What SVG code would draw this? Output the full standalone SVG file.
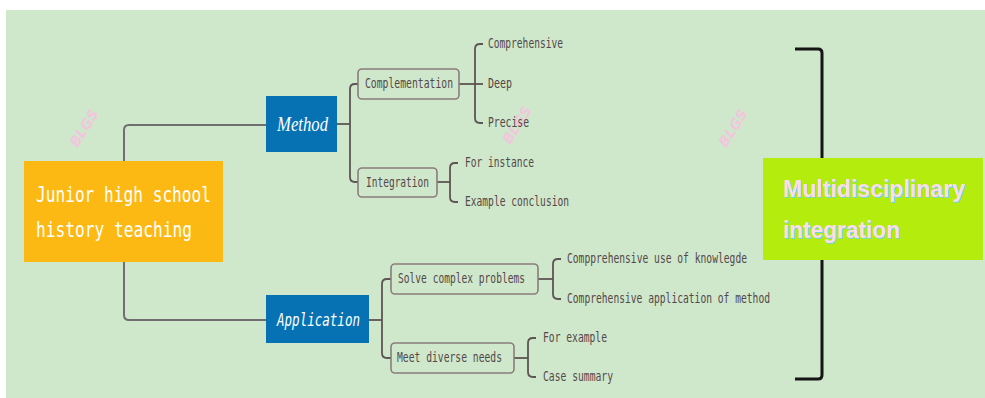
<svg xmlns="http://www.w3.org/2000/svg" width="985" height="398" viewBox="0 0 985 398">
<defs>
<style>
.lbl{font-family:"DejaVu Sans Mono","Liberation Mono",monospace;font-size:13.5px;fill:#54474a}
.box{fill:none;stroke:#8a7c7c;stroke-width:1.6}
.main{fill:none;stroke:#6f6f6f;stroke-width:2}
.sub{fill:none;stroke:#5e5454;stroke-width:1.8}
.wm{font-family:"DejaVu Sans","Liberation Sans",sans-serif;font-size:14px;font-style:italic;font-weight:bold;fill:#f3c5de}
.root{font-family:"DejaVu Sans Mono","Liberation Mono",monospace;font-size:21px;fill:#ffffff}
</style>
<filter id="sh" x="-10%" y="-30%" width="120%" height="160%">
<feDropShadow dx="1" dy="1" stdDeviation="0.5" flood-color="#6fd3e3" flood-opacity="1"/>
</filter>
</defs>
<rect x="0" y="0" width="985" height="398" fill="#ffffff"/>
<rect x="6" y="10" width="979" height="388" fill="#cfe7cb"/>

<g id="watermarks">
<text class="wm" transform="translate(84,128) rotate(-58)" text-anchor="middle" dy="5">BLGS</text>
<text class="wm" transform="translate(517,125) rotate(-58)" text-anchor="middle" dy="5">BLGS</text>
<text class="wm" transform="translate(733,128) rotate(-58)" text-anchor="middle" dy="5">BLGS</text>
</g>

<g id="connectors">
<path class="main" d="M124,161 V130 Q124,125 129,125 H266"/>
<path class="main" d="M124,262 V315 Q124,320 129,320 H266"/>
<path class="sub" d="M337,124 H350"/>
<path class="sub" d="M358,84 H355 Q350,84 350,89 V177 Q350,182 355,182 H358"/>
<path class="sub" d="M459,84 H483"/>
<path class="sub" d="M483,44 H480 Q475,44 475,49 V118 Q475,123 480,123 H483"/>
<path class="sub" d="M437,182 H450"/>
<path class="sub" d="M458,163 H455 Q450,163 450,168 V197 Q450,202 455,202 H458"/>
<path class="sub" d="M369,320 H382"/>
<path class="sub" d="M391,279 H387 Q382,279 382,284 V353 Q382,358 387,358 H391"/>
<path class="sub" d="M538,279 H553"/>
<path class="sub" d="M561,259 H558 Q553,259 553,264 V294 Q553,299 558,299 H561"/>
<path class="sub" d="M514,358 H528"/>
<path class="sub" d="M536,338 H533 Q528,338 528,343 V372 Q528,377 533,377 H536"/>
<path fill="none" stroke="#151515" stroke-width="3" d="M795,49 H818 Q822,49 822,53 V375 Q822,379 818,379 H795"/>
</g>

<g id="root">
<rect x="24" y="161" width="199" height="101" fill="#fdb913"/>
<text class="root" x="36" y="202" textLength="175" lengthAdjust="spacingAndGlyphs">Junior high school</text>
<text class="root" x="36" y="237" textLength="156" lengthAdjust="spacingAndGlyphs">history teaching</text>
</g>

<g id="method">
<rect x="266" y="96" width="71" height="56" fill="#0672b3"/>
<text x="277" y="131" font-family="'Liberation Serif','DejaVu Serif',serif" font-style="italic" font-size="21" fill="#ffffff" textLength="51" lengthAdjust="spacingAndGlyphs">Method</text>
</g>

<g id="application">
<rect x="266" y="295" width="103" height="48" fill="#0672b3"/>
<text x="277" y="326" font-family="'DejaVu Sans Mono','Liberation Mono',monospace" font-style="italic" font-size="18" fill="#ffffff" textLength="83" lengthAdjust="spacingAndGlyphs">Application</text>
</g>

<g id="complementation">
<rect class="box" x="358" y="69" width="101" height="30" rx="4"/>
<text class="lbl" x="365" y="88" textLength="88" lengthAdjust="spacingAndGlyphs">Complementation</text>
</g>
<g id="comprehensive"><text class="lbl" x="488" y="48" textLength="75" lengthAdjust="spacingAndGlyphs">Comprehensive</text></g>
<g id="deep"><text class="lbl" x="488" y="88" textLength="24" lengthAdjust="spacingAndGlyphs">Deep</text></g>
<g id="precise"><text class="lbl" x="488" y="127" textLength="41" lengthAdjust="spacingAndGlyphs">Precise</text></g>

<g id="integration">
<rect class="box" x="358" y="168" width="79" height="29" rx="4"/>
<text class="lbl" x="366" y="187" textLength="63" lengthAdjust="spacingAndGlyphs">Integration</text>
</g>
<g id="for-instance"><text class="lbl" x="465" y="167" textLength="69" lengthAdjust="spacingAndGlyphs">For instance</text></g>
<g id="example-conclusion"><text class="lbl" x="465" y="206" textLength="104" lengthAdjust="spacingAndGlyphs">Example conclusion</text></g>

<g id="solve">
<rect class="box" x="391" y="264" width="147" height="30" rx="4"/>
<text class="lbl" x="398" y="283" textLength="127" lengthAdjust="spacingAndGlyphs">Solve complex problems</text>
</g>
<g id="use-knowledge"><text class="lbl" x="567" y="263" textLength="180" lengthAdjust="spacingAndGlyphs">Compprehensive use of knowlegde</text></g>
<g id="application-method"><text class="lbl" x="567" y="303" textLength="203" lengthAdjust="spacingAndGlyphs">Comprehensive application of method</text></g>

<g id="meet">
<rect class="box" x="391" y="343" width="123" height="30" rx="4"/>
<text class="lbl" x="397" y="362" textLength="105" lengthAdjust="spacingAndGlyphs">Meet diverse needs</text>
</g>
<g id="for-example"><text class="lbl" x="543" y="342" textLength="64" lengthAdjust="spacingAndGlyphs">For example</text></g>
<g id="case-summary"><text class="lbl" x="543" y="381" textLength="70" lengthAdjust="spacingAndGlyphs">Case summary</text></g>

<g id="multidisciplinary">
<rect x="763" y="158" width="220" height="102" fill="#b4ec0d"/>
<g filter="url(#sh)" font-family="'Liberation Sans','DejaVu Sans',sans-serif" font-weight="bold" font-size="24" fill="#fbdde9">
<text x="783" y="197" textLength="182" lengthAdjust="spacingAndGlyphs">Multidisciplinary</text>
<text x="783" y="238" textLength="117" lengthAdjust="spacingAndGlyphs">integration</text>
</g>
</g>
</svg>
